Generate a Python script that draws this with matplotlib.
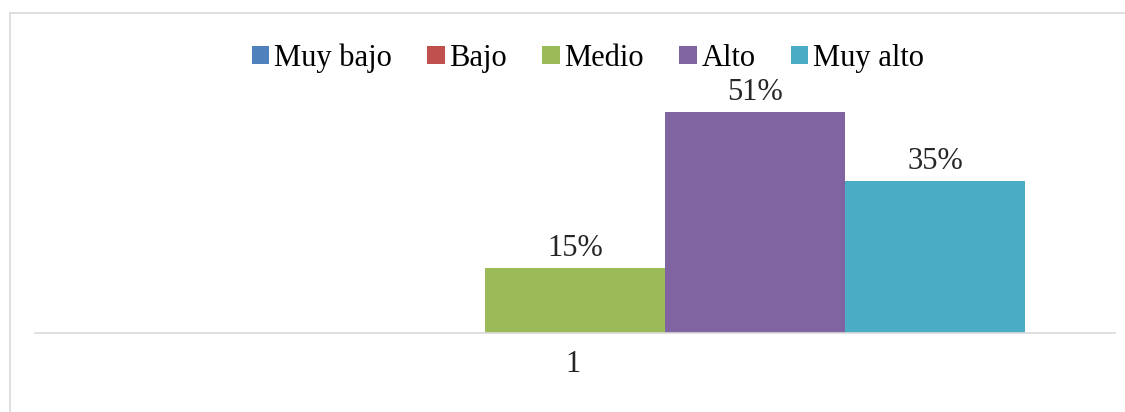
import matplotlib
matplotlib.use("Agg")
import matplotlib.pyplot as plt
from matplotlib.patches import Rectangle

series = ["Muy bajo", "Bajo", "Medio", "Alto", "Muy alto"]
values = [0.0, 0.0, 0.15, 0.51, 0.35]
colors = ["#4f81bd", "#c0504d", "#9bbb59", "#8064a2", "#4bacc6"]
category = "1"

plt.rcParams["font.family"] = ["Liberation Serif", "DejaVu Serif"]

fig = plt.figure(figsize=(11.25, 4.12), dpi=100)
W, H = 1125, 412

# chart border
fig.patches.append(Rectangle((10 / W, -0.1), 1.2, 1 - 13 / H + 0.1,
                             transform=fig.transFigure, fill=False,
                             edgecolor="#d9d9d9", linewidth=1.2))

ax = fig.add_axes([35 / W, 1 - 333 / H, 1080 / W, 260 / H])

bw = 0.2
n = len(series)
for i, (name, v, c) in enumerate(zip(series, values, colors)):
    x = (i - (n - 1) / 2) * bw
    ax.bar(x, v, width=bw, color=c, label=name)
    if v > 0:
        ax.text(x, v + 0.012, "{:.0%}".format(v), ha="center", va="bottom",
                fontsize=22, color="#262626")

ax.set_xlim(-0.6, 0.6)
ax.set_ylim(0, 0.6)
ax.set_xticks([-0.002])
ax.set_xticklabels([category], fontsize=22, color="#262626")
ax.tick_params(axis="x", length=0, pad=12)
ax.set_yticks([])
for s in ["top", "right", "left"]:
    ax.spines[s].set_visible(False)
ax.spines["bottom"].set_color("#d9d9d9")
ax.spines["bottom"].set_linewidth(1.2)

fig.legend(loc="center", bbox_to_anchor=(588 / W, 1 - 58 / H), ncol=5,
           frameon=False, fontsize=22, handlelength=0.57, handleheight=0.57,
           handletextpad=0.16, columnspacing=1.15, borderpad=0.2)

fig.savefig("out.png", dpi=100)
